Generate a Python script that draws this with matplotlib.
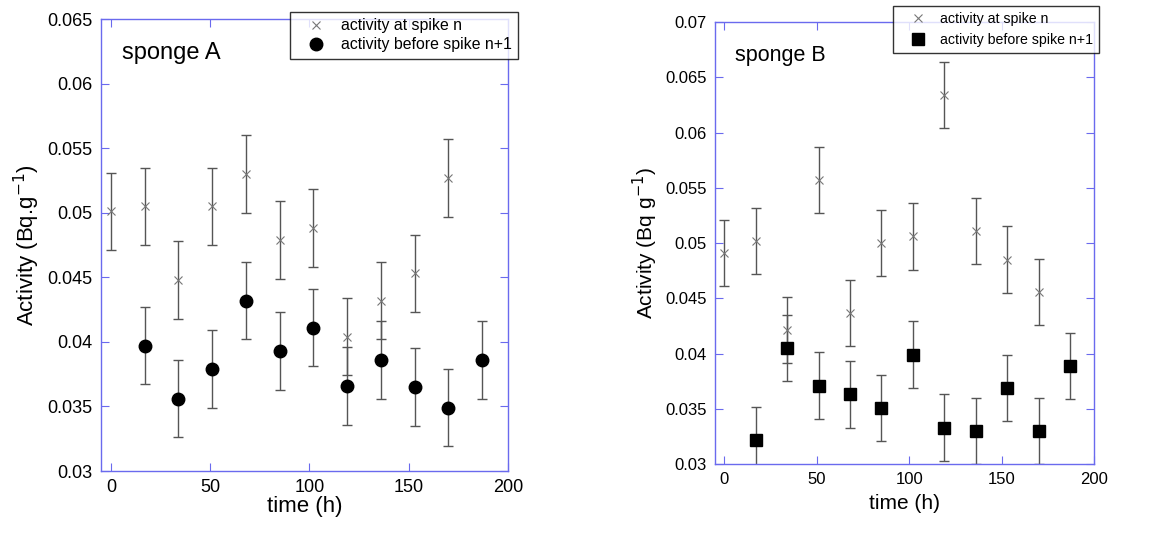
import numpy as np
import matplotlib.pyplot as plt

plt.rcParams['font.family'] = ['Liberation Sans', 'DejaVu Sans']

# sampling times (h)
t_spike = [0, 17, 34, 51, 68, 85, 102, 119, 136, 153, 170]
t_before = [17, 34, 51, 68, 85, 102, 119, 136, 153, 170, 187]

# sponge A
a_spike = [0.0501, 0.0505, 0.0448, 0.0505, 0.0530, 0.0479, 0.0488, 0.0404, 0.0432, 0.0453, 0.0527]
a_before = [0.0397, 0.0356, 0.0379, 0.0432, 0.0393, 0.0411, 0.0366, 0.0386, 0.0365, 0.0349, 0.0386]
# sponge B
b_spike = [0.0491, 0.0502, 0.0421, 0.0557, 0.0437, 0.0500, 0.0506, 0.0634, 0.0511, 0.0485, 0.0456]
b_before = [0.0322, 0.0405, 0.0371, 0.0363, 0.0351, 0.0399, 0.0333, 0.0330, 0.0369, 0.0330, 0.0389]
err = 0.003

frame_col = '#6a6aee'


def style_axes(ax, ylim, yticks, fs):
    ax.set_xlim(-5, 200)
    ax.set_ylim(*ylim)
    ax.set_xticks([0, 50, 100, 150, 200])
    ax.set_yticks(yticks)
    ax.set_yticklabels([f"{v:g}" for v in yticks])
    for s in ax.spines.values():
        s.set_color(frame_col)
        s.set_linewidth(1.0)
    ax.tick_params(direction='in', top=True, right=True, length=6,
                   color=frame_col, labelsize=fs, pad=6)


def draw(ax, spike, before, mk, name, ylim, yticks, ylabel, fs, sfs, xpad, leg_kw):
    ax.errorbar(t_spike, spike, yerr=err, fmt='none', ecolor='#555555',
                elinewidth=1.0, capsize=3.5, capthick=1.0, zorder=2)
    ax.errorbar(t_before, before, yerr=err, fmt='none', ecolor='#555555',
                elinewidth=1.0, capsize=3.5, capthick=1.0, zorder=2)
    ax.plot(t_spike, spike, 'x', color='#777777', ms=6, mew=0.8,
            label='activity at spike n', zorder=3)
    ax.plot(t_before, before, mk, color='black', ms=9 if mk == 'o' else 8.5,
            label='activity before spike n+1', zorder=3)
    style_axes(ax, ylim, yticks, fs)
    ax.set_xlabel('time (h)', fontsize=fs + 3, labelpad=xpad)
    ax.set_ylabel(ylabel, fontsize=fs + 3)
    ax.text(0.052, 0.925, name, transform=ax.transAxes, fontsize=sfs,
            va='center', ha='left')
    leg = ax.legend(loc='upper right', frameon=True, fancybox=False,
                    edgecolor='black', borderpad=0.4, borderaxespad=0, **leg_kw)
    leg.get_frame().set_linewidth(1.0)
    leg.set_zorder(5)


fig = plt.figure(figsize=(11.76, 5.33), dpi=100)
ax1 = fig.add_axes([0.0859, 0.1163, 0.3461, 0.848])
ax2 = fig.add_axes([0.608, 0.1295, 0.3223, 0.829])

draw(ax1, a_spike, a_before, 'o', 'sponge A', (0.03, 0.065),
     [0.03, 0.035, 0.04, 0.045, 0.05, 0.055, 0.06, 0.065],
     'Activity (Bq.g$^{-1}$)', 13, 17, 0,
     dict(bbox_to_anchor=(1.0246, 1.0155), fontsize=11.4, handlelength=2.5,
          handletextpad=0.3, labelspacing=0.25))
draw(ax2, b_spike, b_before, 's', 'sponge B', (0.03, 0.07),
     [0.03, 0.035, 0.04, 0.045, 0.05, 0.055, 0.06, 0.065, 0.07],
     'Activity (Bq g$^{-1}$)', 12, 15.5, 5,
     dict(bbox_to_anchor=(1.013, 1.036), fontsize=10.2, handlelength=2.8,
          handletextpad=0.15, labelspacing=0.5))

fig.savefig('out.png', dpi=100)
